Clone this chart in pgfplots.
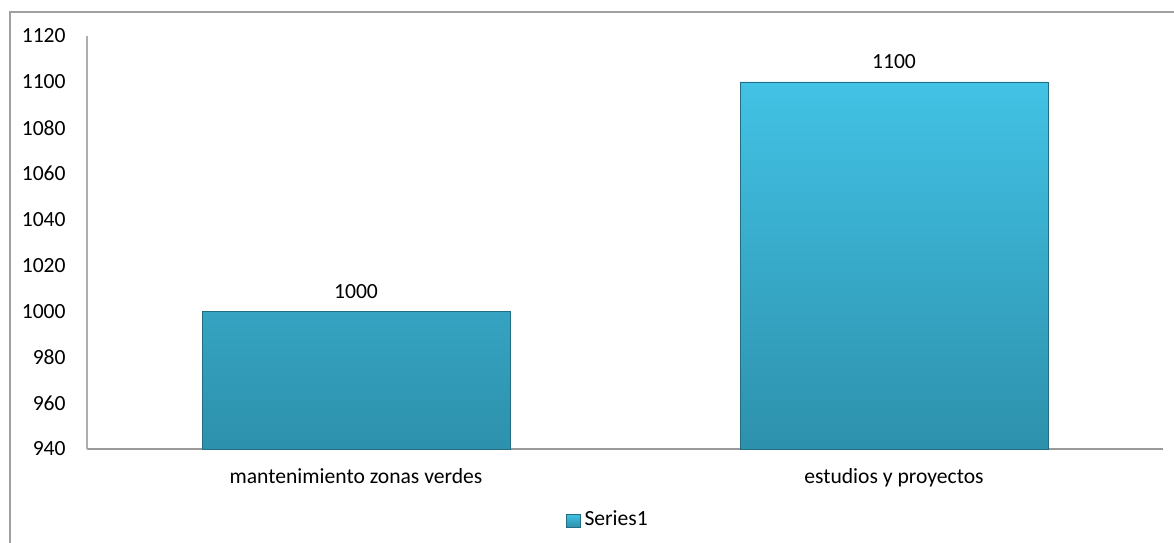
\documentclass[border=0pt]{standalone}
\usepackage{fontspec}
\setmainfont{Carlito}
\usepackage{pgfplots}
\pgfplotsset{compat=1.18}
\definecolor{bartop}{HTML}{42C2E5}
\definecolor{barbot}{HTML}{2D91AC}
\definecolor{framegray}{HTML}{A0A0A0}
\definecolor{axgray}{HTML}{9A9A9A}
\newcommand{\fs}{\fontsize{10.8}{13}\selectfont}
\begin{document}
\begin{tikzpicture}[x=1pt,y=1pt]
\useasboundingbox (0,0) rectangle (587,271);
\draw[framegray, line width=0.7pt] (5,-10) -- (5,265) -- (600,265);
\begin{axis}[
  at={(43.5pt,46.5pt)}, anchor=south west,
  width=538pt, height=206.5pt, scale only axis,
  xmin=-0.5, xmax=1.5, ymin=940, ymax=1120,
  ytick={940,960,...,1120},
  xtick={0,1},
  xticklabels={mantenimiento zonas verdes, estudios y proyectos},
  axis x line*=bottom, axis y line*=left,
  x axis line style={draw=axgray, line width=0.7pt},
  y axis line style={draw=axgray!80, line width=0.6pt},
  major tick length=0pt,
  tick style={draw=none},
  font=\fs,
  yticklabel style={anchor=east, inner sep=0pt, xshift=-10.5pt, font=\fs},
  xticklabel style={anchor=base, inner sep=0pt, yshift=-17pt, font=\fs},
  /pgf/number format/assume math mode=true,
  /pgf/number format/1000 sep={},
  nodes near coords,
  every node near coord/.append style={anchor=base, inner sep=0pt, yshift=6.5pt, font=\fs, text=black},
  legend style={draw=none, at={(0.485,-0.172)}, anchor=center, font=\fs, inner sep=1pt},
  legend image code/.code={\fill[top color=bartop, bottom color=barbot] (0pt,-3.5pt) rectangle (7pt,3pt);},
]
\addplot[ybar, bar width=154pt, top color=bartop, bottom color=barbot, draw=barbot!75!black, line width=0.3pt] coordinates {(0,1000) (1,1100)};
\addlegendentry{Series1}
\end{axis}
\end{tikzpicture}
\end{document}
